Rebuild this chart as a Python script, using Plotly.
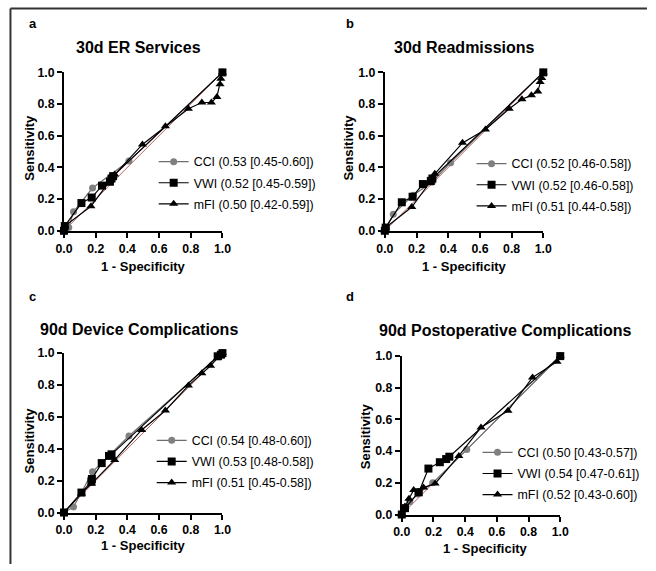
import plotly.graph_objects as go

W, H = 656, 571

# ---------------- data ----------------
titles = ["30d ER Services", "30d Readmissions", "90d Device Complications", "90d Postoperative Complications"]
letters = ["a", "b", "c", "d"]
series_names = ["CCI", "VWI", "mFI"]

legend_a = ["CCI (0.53 [0.45-0.60])", "VWI (0.52 [0.45-0.59])", "mFI (0.50 [0.42-0.59])"]
legend_b = ["CCI (0.52 [0.46-0.58])", "VWI (0.52 [0.46-0.58])", "mFI (0.51 [0.44-0.58])"]
legend_c = ["CCI (0.54 [0.48-0.60])", "VWI (0.53 [0.48-0.58])", "mFI (0.51 [0.45-0.58])"]
legend_d = ["CCI (0.50 [0.43-0.57])", "VWI (0.54 [0.47-0.61])", "mFI (0.52 [0.43-0.60])"]

# panel a
a_cci_x = [0, 0.03, 0.06, 0.18, 0.41, 1.0]
a_cci_y = [0, 0.02, 0.12, 0.27, 0.44, 1.0]
a_vwi_x = [0, 0.005, 0.11, 0.175, 0.24, 0.29, 0.30, 0.31, 1.0]
a_vwi_y = [0, 0.03, 0.175, 0.21, 0.285, 0.31, 0.33, 0.345, 1.0]
a_mfi_x = [0, 0.005, 0.17, 0.28, 0.32, 0.495, 0.64, 0.785, 0.87, 0.93, 0.965, 0.985, 0.99, 1.0]
a_mfi_y = [0, 0.03, 0.155, 0.30, 0.355, 0.545, 0.66, 0.77, 0.81, 0.81, 0.845, 0.925, 0.96, 1.0]

# panel b
b_cci_x = [0, 0.01, 0.053, 0.18, 0.30, 0.415, 1.0]
b_cci_y = [0, 0.02, 0.105, 0.225, 0.31, 0.43, 1.0]
b_vwi_x = [0, 0.005, 0.107, 0.175, 0.24, 0.29, 0.30, 1.0]
b_vwi_y = [0, 0.02, 0.18, 0.215, 0.295, 0.315, 0.33, 1.0]
b_mfi_x = [0, 0.005, 0.17, 0.28, 0.315, 0.49, 0.635, 0.785, 0.865, 0.925, 0.965, 0.98, 0.99, 1.0]
b_mfi_y = [0, 0.02, 0.15, 0.30, 0.36, 0.555, 0.64, 0.77, 0.83, 0.855, 0.88, 0.94, 0.965, 1.0]

# panel c
c_cci_x = [0, 0.06, 0.18, 0.41, 1.0]
c_cci_y = [0, 0.035, 0.255, 0.48, 1.0]
c_vwi_x = [0, 0.11, 0.173, 0.176, 0.238, 0.284, 0.30, 0.97, 0.99, 1.0]
c_vwi_y = [0, 0.125, 0.195, 0.21, 0.31, 0.355, 0.365, 0.98, 0.99, 1.0]
c_mfi_x = [0, 0.11, 0.173, 0.32, 0.49, 0.64, 0.785, 0.87, 0.925, 0.97, 0.99, 1.0]
c_mfi_y = [0, 0.12, 0.18, 0.33, 0.518, 0.64, 0.796, 0.874, 0.92, 0.97, 0.985, 1.0]

# panel d
d_cci_x = [0, 0.02, 0.05, 0.10, 0.195, 0.41, 1.0]
d_cci_y = [0, 0.04, 0.08, 0.13, 0.20, 0.41, 1.0]
d_vwi_x = [0, 0.02, 0.107, 0.168, 0.24, 0.28, 0.30, 1.0]
d_vwi_y = [0, 0.04, 0.14, 0.29, 0.33, 0.35, 0.365, 1.0]
d_mfi_x = [0, 0.02, 0.045, 0.075, 0.137, 0.21, 0.36, 0.50, 0.67, 0.825, 0.98, 1.0]
d_mfi_y = [0, 0.05, 0.10, 0.155, 0.17, 0.195, 0.37, 0.55, 0.655, 0.865, 0.965, 1.0]

tick_vals = [0, 0.2, 0.4, 0.6, 0.8, 1.0]
tick_text = ["0.0", "0.2", "0.4", "0.6", "0.8", "1.0"]
x_title = "1 - Specificity"
y_title = "Sensitivity"

# ---------------- layout geometry (target screen pixels) ----------------
panels = [
    dict(x0=63, x1=222, y0=73, y1=231, data=[(a_cci_x, a_cci_y), (a_vwi_x, a_vwi_y), (a_mfi_x, a_mfi_y)], leg=legend_a,
         title=(138, 48), letter=(32, 24), xt=(143, 267), yt=(28, 148), legpos=(153, 147.5)),
    dict(x0=385, x1=544, y0=73, y1=231, data=[(b_cci_x, b_cci_y), (b_vwi_x, b_vwi_y), (b_mfi_x, b_mfi_y)], leg=legend_b,
         title=(465, 48), letter=(350, 24), xt=(465, 267), yt=(349, 148), legpos=(472, 149.5)),
    dict(x0=63, x1=222, y0=353, y1=512, data=[(c_cci_x, c_cci_y), (c_vwi_x, c_vwi_y), (c_mfi_x, c_mfi_y)], leg=legend_c,
         title=(138, 329), letter=(31, 297), xt=(143, 545), yt=(28, 440), legpos=(151, 425.5)),
    dict(x0=402, x1=561, y0=356, y1=514, data=[(d_cci_x, d_cci_y), (d_vwi_x, d_vwi_y), (d_mfi_x, d_mfi_y)], leg=legend_d,
         title=(506, 330), letter=(350, 297), xt=(486, 548), yt=(365, 436), legpos=(478, 437.5)),
]

SX, SY, OFF = 0.976, 0.973, 8.0


def px(x):
    return (x / SX - OFF) / W


def py(y):
    return 1 - (y / SY - OFF) / H


FONT = "Arial, Liberation Sans, sans-serif"
styles = [
    dict(symbol="circle", size=7, color="#808080", line="#6e6e6e"),
    dict(symbol="square", size=8, color="#000000", line="#000000"),
    dict(symbol="triangle-up", size=8, color="#000000", line="#000000"),
]

fig = go.Figure()
annotations = []
layout_extra = {}

for i, p in enumerate(panels):
    k = "" if i == 0 else str(i + 1)
    xa, ya = "x" + k, "y" + k
    legname = "legend" + k
    fig.add_trace(go.Scatter(x=[0, 1], y=[0, 1], mode="lines", line=dict(color="#b86464", width=1),
                             showlegend=False, xaxis=xa, yaxis=ya, hoverinfo="skip"))
    for j, ((sx, sy), st) in enumerate(zip(p["data"], styles)):
        fig.add_trace(go.Scatter(
            x=sx, y=sy, mode="lines+markers", name=p["leg"][j],
            line=dict(color=st["line"], width=1.2),
            marker=dict(symbol=st["symbol"], size=st["size"], color=st["color"], line=dict(width=0)),
            xaxis=xa, yaxis=ya, legend=legname, legendgroup=f"g{i}{j}", cliponaxis=False,
        ))
    axis_common = dict(range=[0, 1], showgrid=False, zeroline=False, showline=True, linecolor="black",
                       linewidth=2, ticks="outside", ticklen=5, tickwidth=2, tickcolor="black",
                       tickvals=tick_vals, ticktext=tick_text,
                       tickfont=dict(family=FONT, size=12.3, color="black", weight="bold"))
    layout_extra["xaxis" + k] = dict(axis_common, domain=[px(p["x0"]), px(p["x1"])], anchor=ya)
    layout_extra["yaxis" + k] = dict(axis_common, domain=[py(p["y1"]), py(p["y0"])], anchor=xa)
    layout_extra[legname] = dict(x=px(p["legpos"][0]), y=py(p["legpos"][1]), xanchor="left", yanchor="top",
                                 bgcolor="rgba(0,0,0,0)", font=dict(family=FONT, size=12.4, color="black"),
                                 tracegroupgap=2, itemwidth=30)
    annotations.append(dict(text=f"<b>{titles[i]}</b>", x=px(p["title"][0]), y=py(p["title"][1]),
                            xref="paper", yref="paper", showarrow=False, xanchor="center", yanchor="middle",
                            font=dict(family=FONT, size=16, color="black")))
    annotations.append(dict(text=f"<b>{letters[i]}</b>", x=px(p["letter"][0]), y=py(p["letter"][1]),
                            xref="paper", yref="paper", showarrow=False, xanchor="center", yanchor="middle",
                            font=dict(family=FONT, size=13, color="black")))
    annotations.append(dict(text=f"<b>{x_title}</b>", x=px(p["xt"][0]), y=py(p["xt"][1]),
                            xref="paper", yref="paper", showarrow=False, xanchor="center", yanchor="middle",
                            font=dict(family=FONT, size=13, color="black")))
    annotations.append(dict(text=f"<b>{y_title}</b>", x=px(p["yt"][0]), y=py(p["yt"][1]), textangle=-90,
                            xref="paper", yref="paper", showarrow=False, xanchor="center", yanchor="middle",
                            font=dict(family=FONT, size=13, color="black")))

shapes = [
    dict(type="line", xref="paper", yref="paper", x0=1.5 / W, x1=1, y0=1 - 1.5 / H, y1=1 - 1.5 / H,
         line=dict(color="#333333", width=2)),
    dict(type="line", xref="paper", yref="paper", x0=1.5 / W, x1=1.5 / W, y0=1 - 1.5 / H, y1=0,
         line=dict(color="#333333", width=2)),
]

fig.update_layout(width=W, height=H, margin=dict(l=0, r=0, t=0, b=0), plot_bgcolor="white",
                  paper_bgcolor="white", annotations=annotations, shapes=shapes, **layout_extra)

fig.write_html("out.html", config={"displayModeBar": False},
               post_script="document.body.style.margin='0px';")
